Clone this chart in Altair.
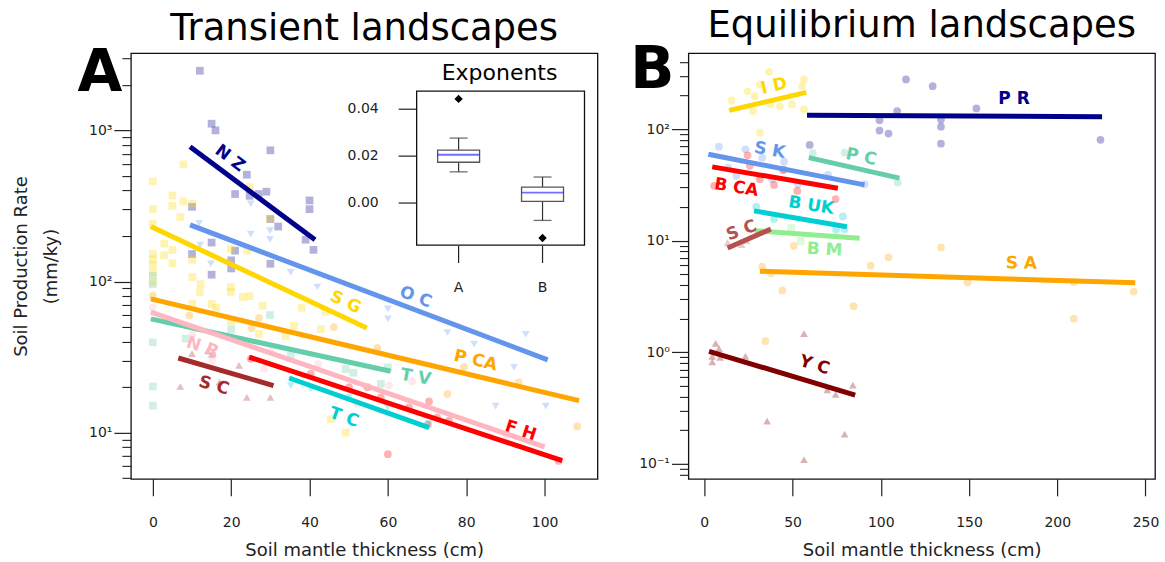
import altair as alt
import pandas as pd

FONT = "DejaVu Sans"

# ---------------- Panel A : transient landscapes ----------------
NZ_x = [12, 15, 16, 30, 24, 21, 24.7, 27, 29, 30, 32, 40, 40, 39, 41, 10, 15, 20, 20, 15, 10, 30, 21]
NZ_y = [2480, 1107, 1000, 738, 509, 379, 369, 379, 393, 259, 231, 344, 301, 189, 162, 312, 181, 138, 122, 111, 152, 131, 160]
OC_x = [11.8, 12.1, 14.8, 25, 25, 29.9, 29.9, 35.2, 42, 60, 60, 75.2, 82, 95.2, 92.2, 87.5, 100.3]
OC_y = [243, 174, 131, 326, 206, 217, 190, 115, 92, 66, 56.6, 46, 38.5, 44.8, 27, 15, 15]
SG_x = [0, 0, 7.8, 5, 5, 7.8, 10.1, 7, 0, 2.9, 5, 2.9, 5, 10.1, 24.8, 29.9, 24.1, 10.1, 12.2,
        0, 0, 0, 0, 0, 12, 10.1, 15, 16.2, 19.9, 19.9, 23, 24.7, 28, 20, 36, 38, 42.9, 44.1,
        27.1, 33.9, 45.4, 49.2, 19.9]
SG_y = [460, 302, 596, 371, 316, 338, 327, 267, 241, 178, 162, 149, 132, 139, 422, 260, 160, 107, 96,
        152, 140, 128, 115, 100, 85, 71, 71, 67, 92, 85, 79, 80, 69, 54, 51, 67, 48.5, 63,
        45, 43.6, 12.3, 10.0, 164]
TV_x = [0, 0, 0, 0, 0, 29.9, 20, 35.2, 49.2, 51.2, 58.2, 60, 8.4]
TV_y = [109, 96, 39.6, 20.2, 15.1, 60, 48, 32.4, 26.4, 24.9, 21, 27, 41.9]
PCA_x = [0, 9.3, 27.1, 25.2, 46.2, 57.3, 79.4, 75.2, 93.4, 108.3]
PCA_y = [80.6, 59.6, 57.4, 49, 50, 36.4, 27.1, 18, 21.5, 11]
NR_x = [0, 10.1, 15.2, 28.4, 30.1, 42.2, 52.2, 60.3, 66.2, 90.3]
NR_y = [67.3, 45, 30, 26.4, 34.7, 28.4, 15.5, 20.5, 21.9, 9.4]
SC_x = [7, 10, 14, 15, 17, 22, 24, 30]
SC_y = [20.2, 33.3, 34.7, 33, 21.6, 27.9, 17.1, 17.1]
FH_x = [25, 40.3, 50.1, 54.8, 58.2, 65.4, 70.5, 72.6, 75.6, 70.2, 60, 103.6]
FH_y = [30.8, 24.5, 20, 20, 17.1, 14.7, 16.1, 12.6, 12.0, 11.3, 7.2, 6.5]
TC_x = [35.2, 40.3, 50.1, 59.9, 70.5]
TC_y = [20.5, 19.5, 17.1, 14.7, 11.5]

# site: (label, colour, marker, x-points, y-points, fit line [x0, y0, x1, y1], label [x, y, angle])
A_sites = {
    "NZ": ("N Z", "#00008B", "square", NZ_x, NZ_y, [9.5, 780, 41.4, 189], [19.7, 653, 37]),
    "OC": ("O C", "#6495ED", "triangle-down", OC_x, OC_y, [9.5, 237, 100.8, 30.3], [67.1, 78.7, 21]),
    "SG": ("S G", "#FFD700", "square", SG_x, SG_y, [-0.5, 231, 54.6, 49.3], [49.2, 72.9, 25]),
    "PCA": ("P CA", "#FFA500", "circle", PCA_x, PCA_y, [-0.5, 76.8, 108.8, 16.3], [82.4, 30, 13]),
    "TV": ("T V", "#66CDAA", "square", TV_x, TV_y, [-0.5, 56.6, 60.7, 25.5], [67.1, 23.3, 10]),
    "NR": ("N R", "#FFB6C1", "circle", NR_x, NR_y, [-0.5, 62.7, 100, 8.05], [12.7, 36.7, 19]),
    "SC": ("S C", "#A52A2A", "triangle-up", SC_x, SC_y, [6.5, 31.2, 30.8, 20.5], [15.6, 20.5, 16]),
    "FH": ("F H", "#FF0000", "circle", FH_x, FH_y, [24.6, 31.6, 104.5, 6.53], [93.9, 10.3, 18]),
    "TC": ("T C", "#00CED1", "triangle-down", TC_x, TC_y, [34.8, 23.0, 70.5, 10.8], [48.8, 12.6, 19]),
}

# ---------------- Panel B : equilibrium landscapes ----------------
ID_x = [36.6, 15.4, 24.5, 31.5, 28.6, 27.7, 37.7, 42.8, 49.7, 56.5, 55.4, 56.5, 31.5]
ID_y = [325, 181, 218, 251, 197, 145, 166, 160, 166, 278, 242, 150, 92.7]
PR_x = [59.7, 99.3, 99.3, 104.4, 109.3, 114.3, 129.4, 134.1, 134.1, 134.1, 154.2, 224.5]
PR_y = [72, 120, 97, 91, 145, 278, 242, 122, 105, 74, 153, 80]
SK_x = [8.3, 23.3, 32.8, 45.2, 13.6, 18.2, 38.4, 45.2, 53.1, 70.1, 90.8]
SK_y = [69.5, 65.9, 55.4, 51, 45.2, 38, 35.5, 43.6, 32, 38.8, 32]
PC_x = [61.6, 79.5, 109.6]
PC_y = [61, 61.4, 33.2]
BCA_x = [24.5, 25.8, 44.6, 39.5, 52.7, 74.4, 5.6, 31.5]
BCA_y = [58.2, 46.8, 42.8, 31.6, 27.9, 23.6, 31, 35.5]
BUK_x = [29.5, 39.5, 78.5, 74.7, 79.5]
BUK_y = [20.2, 15.6, 16.5, 12.5, 12.7]
BM_x = [49.3, 54.6]
BM_y = [13, 9.9]
SCB_x = [13.2, 21.1, 23.9]
SCB_y = [9.6, 9.2, 10]
SA_x = [32.8, 37.7, 44.2, 34.6, 84.6, 94.2, 104.4, 50.7, 134.1, 149.2, 209.4, 243.3, 209.4]
SA_y = [5.86, 5.1, 3.58, 1.26, 2.59, 5.98, 7.1, 9.0, 8.7, 4.25, 4.25, 3.5, 2.0]
YC_x = [6.4, 8.3, 4.5, 4.5, 8.9, 23.3, 56.5, 35.6, 56.5, 79.5, 84.2, 69.7, 74.4]
YC_y = [1.2, 1.08, 0.92, 0.82, 0.9, 0.92, 1.47, 0.242, 0.109, 0.185, 0.507, 0.46, 0.42]

B_sites = {
    "ID": ("I D", "#FFD700", "circle", ID_x, ID_y, [14.1, 147, 57.8, 213], [39.5, 242, 347]),
    "PR": ("P R", "#00008B", "circle", PR_x, PR_y, [58.2, 133, 225.4, 129], [175.5, 184, 0]),
    "SK": ("S K", "#6495ED", "circle", SK_x, SK_y, [2.3, 59.4, 90.8, 31.6], [37.1, 64.5, 10]),
    "PC": ("P C", "#66CDAA", "circle", PC_x, PC_y, [59.2, 55.4, 110.6, 36.3], [88.9, 56.2, 12]),
    "BCA": ("B CA", "#FF0000", "circle", BCA_x, BCA_y, [4.5, 45.8, 75.7, 29.5], [18.2, 29.9, 9]),
    "BUK": ("B UK", "#00CED1", "circle", BUK_x, BUK_y, [28.2, 18.5, 80.8, 13.3], [60.6, 20.6, 9]),
    "BM": ("B M", "#90EE90", "square", BM_x, BM_y, [28.6, 12.3, 88, 10.5], [68.2, 8.3, 3]),
    "SC": ("S C", "#B5524F", "triangle-up", SCB_x, SCB_y, [13.2, 8.6, 37.7, 12.7], [21.1, 12.3, 340]),
    "SA": ("S A", "#FFA500", "circle", SA_x, SA_y, [31.5, 5.32, 244.2, 4.19], [179.7, 6.24, 1]),
    "YC": ("Y C", "#800000", "triangle-up", YC_x, YC_y, [2.7, 1.02, 85.5, 0.413], [62.5, 0.766, 17]),
}

# ---------------- Inset : exponents box plot ----------------
BOX_CATS = ["A", "B"]
BOX_Q1 = [0.0174, 0.0007]
BOX_Q3 = [0.0226, 0.0068]
BOX_MED = [0.0206, 0.0044]
BOX_WLO = [0.0133, -0.0074]
BOX_WHI = [0.0277, 0.0111]
OUT_CATS = ["A", "B"]
OUT_VALS = [0.0444, -0.0149]
INSET_TICKS = [0.0, 0.02, 0.04]

# axes
A_XTICKS = [0, 20, 40, 60, 80, 100]
A_YMAJOR = [10, 100, 1000]
A_YMINOR = [5, 6, 7, 8, 9, 20, 30, 40, 50, 60, 70, 80, 90,
            200, 300, 400, 500, 600, 700, 800, 900, 2000, 3000]
B_XTICKS = [0, 50, 100, 150, 200, 250]
B_YMAJOR = [0.1, 1, 10, 100]
B_YMINOR = [0.08, 0.09, 0.2, 0.3, 0.4, 0.5, 0.6, 0.7, 0.8, 0.9, 2, 3, 4, 5, 6, 7, 8, 9,
            20, 30, 40, 50, 60, 70, 80, 90, 200, 300, 400]
A_XDOM, A_YDOM = [-5.6, 113.5], [4.95, 3240]
B_XDOM, B_YDOM = [-9, 255.4], [0.0735, 478]
W, H = 467, 426


def tables(sites):
    pts, lines, labels = [], [], []
    for key, (lab, col, shp, xs, ys, fit, lp) in sites.items():
        for x, y in zip(xs, ys):
            pts.append({"site": key, "x": x, "y": y, "color": col, "shape": shp})
        lines.append({"site": key, "x": fit[0], "y": fit[1], "color": col})
        lines.append({"site": key, "x": fit[2], "y": fit[3], "color": col})
        labels.append({"site": key, "label": lab, "x": lp[0], "y": lp[1], "angle": lp[2], "color": col})
    return pd.DataFrame(pts), pd.DataFrame(lines), pd.DataFrame(labels)


LABEL_EXPR = ("datum.value >= 999 ? '10³' : datum.value >= 99 ? '10²' : "
              "datum.value >= 9 ? '10¹' : datum.value >= 0.9 ? '10⁰' : '10⁻¹'")


def panel(sites, xdom, ydom, xticks, ymajor, yminor, ytitle, title, letter, letter_xy, extra=None):
    pts, lines, labels = tables(sites)
    xs = alt.Scale(domain=xdom, nice=False, zero=False)
    ys = alt.Scale(type="log", domain=ydom, nice=False)
    xaxis = alt.Axis(values=xticks, tickSize=17, tickWidth=1.2, tickColor="#222", domain=False,
                     grid=False, labelFontSize=14, labelColor="#222", labelPadding=20,
                     title="Soil mantle thickness (cm)", titleFontSize=18, titleColor="#222",
                     titleFontWeight="normal", titlePadding=12)
    yargs = dict(values=ymajor, tickSize=17, tickWidth=1.2, tickColor="#222", domain=False,
                 grid=False, labelExpr=LABEL_EXPR, labelFontSize=14, labelColor="#222",
                 labelPadding=2, orient="left")
    if ytitle:
        yargs.update(title=ytitle, titleFontSize=18, titleColor="#222", titleFontWeight="normal",
                     titlePadding=28, titleLineHeight=30)
    else:
        yargs.update(title=None)
    yaxis = alt.Axis(**yargs)
    minor_axis = alt.Axis(values=yminor, tickSize=9, tickWidth=1.1, tickColor="#222", domain=False,
                          grid=False, labels=False, title=None, orient="left")

    pts_layer = alt.Chart(pts).mark_point(filled=True, opacity=0.3, size=60, strokeWidth=0).encode(
        x=alt.X("x:Q", scale=xs, axis=xaxis),
        y=alt.Y("y:Q", scale=ys, axis=yaxis),
        color=alt.Color("color:N", scale=None),
        shape=alt.Shape("shape:N", scale=None),
    )
    line_layer = alt.Chart(lines).mark_line(strokeWidth=5).encode(
        x=alt.X("x:Q", scale=xs, axis=None),
        y=alt.Y("y:Q", scale=ys, axis=minor_axis),
        detail="site:N",
        color=alt.Color("color:N", scale=None),
    )
    text_layer = alt.Chart(labels).mark_text(fontSize=17, fontWeight="bold").encode(
        x=alt.X("x:Q", scale=xs, axis=None),
        y=alt.Y("y:Q", scale=ys, axis=None),
        text="label:N",
        color=alt.Color("color:N", scale=None),
        angle=alt.Angle("angle:Q", scale=None),
    )
    letter_layer = alt.Chart(pd.DataFrame({"t": [letter]})).mark_text(
        fontSize=58, fontWeight="bold", color="black", align="center", baseline="alphabetic"
    ).encode(text="t:N", x=alt.value(letter_xy[0]), y=alt.value(letter_xy[1]))

    layers = [pts_layer, line_layer, text_layer, letter_layer]
    if extra is not None:
        layers.append(extra)
    return alt.layer(*layers).resolve_scale(x="independent", y="independent").properties(
        width=W, height=H,
        title=alt.TitleParams(title, fontSize=37, fontWeight="normal", color="black",
                              anchor="middle", offset=-3),
    )


def inset():
    X0, X1, Y0, Y1 = 286, 454, 38, 192
    xs = alt.Scale(type="point", domain=BOX_CATS, range=[X0, X1], padding=0.5)
    ys = alt.Scale(domain=[-0.0179, 0.0477], range=[Y1, Y0], nice=False, zero=False)
    box = pd.DataFrame({"cat": BOX_CATS, "q1": BOX_Q1, "q3": BOX_Q3, "med": BOX_MED,
                        "wlo": BOX_WLO, "whi": BOX_WHI})
    outl = pd.DataFrame({"cat": OUT_CATS, "v": OUT_VALS})
    ticks = pd.DataFrame({"v": INSET_TICKS})
    one = pd.DataFrame({"d": [0]})
    X = alt.X("cat:N", scale=xs, axis=None)

    frame = alt.Chart(one).mark_rect(fill="white", stroke="#111", strokeWidth=1.3).encode(
        x=alt.value(X0), x2=alt.value(X1), y=alt.value(Y0), y2=alt.value(Y1))
    wl = alt.Chart(box).mark_rule(color="#333", strokeWidth=1.2).encode(
        x=X, y=alt.Y("wlo:Q", scale=ys, axis=None), y2="q1:Q")
    wh = alt.Chart(box).mark_rule(color="#333", strokeWidth=1.2).encode(
        x=X, y=alt.Y("q3:Q", scale=ys, axis=None), y2="whi:Q")
    cap_lo = alt.Chart(box).mark_tick(size=18, thickness=1.3, color="#333").encode(
        x=X, y=alt.Y("wlo:Q", scale=ys, axis=None))
    cap_hi = alt.Chart(box).mark_tick(size=18, thickness=1.3, color="#333").encode(
        x=X, y=alt.Y("whi:Q", scale=ys, axis=None))
    bx = alt.Chart(box).mark_bar(size=42, fill="white", stroke="#555", strokeWidth=1.3).encode(
        x=X, y=alt.Y("q1:Q", scale=ys, axis=None), y2="q3:Q")
    med = alt.Chart(box).mark_tick(size=42, thickness=1.8, color="#3333ff").encode(
        x=X, y=alt.Y("med:Q", scale=ys, axis=None))
    out = alt.Chart(outl).mark_point(shape="diamond", filled=True, size=70, color="black",
                                     opacity=1).encode(
        x=X, y=alt.Y("v:Q", scale=ys, axis=None))
    ytick = alt.Chart(ticks).mark_rule(color="#222", strokeWidth=1.2).encode(
        x=alt.value(X0 - 18), x2=alt.value(X0), y=alt.Y("v:Q", scale=ys, axis=None))
    ylab = alt.Chart(ticks).mark_text(fontSize=14, align="right", baseline="middle",
                                      color="#222").encode(
        x=alt.value(X0 - 38), y=alt.Y("v:Q", scale=ys, axis=None),
        text=alt.Text("v:Q", format=".2f"))
    xtick = alt.Chart(box).mark_rule(color="#222", strokeWidth=1.2).encode(
        x=X, y=alt.value(Y1 + 1), y2=alt.value(Y1 + 18))
    xlab = alt.Chart(box).mark_text(fontSize=14, baseline="middle", color="#222").encode(
        x=X, y=alt.value(Y1 + 43), text="cat:N")
    ttl = alt.Chart(pd.DataFrame({"t": ["Exponents"]})).mark_text(
        fontSize=22, color="black", baseline="middle").encode(
        text="t:N", x=alt.value((X0 + X1) / 2 - 1), y=alt.value(Y0 - 18))
    return alt.layer(frame, wl, wh, cap_lo, cap_hi, bx, med, out, ytick, ylab, xtick, xlab, ttl)


panelA = panel(A_sites, A_XDOM, A_YDOM, A_XTICKS, A_YMAJOR, A_YMINOR,
               ["Soil Production Rate", "(mm/ky)"], "Transient landscapes", "A", (-31, 38),
               extra=inset())
panelB = panel(B_sites, B_XDOM, B_YDOM, B_XTICKS, B_YMAJOR, B_YMINOR,
               None, "Equilibrium landscapes", "B", (-36, 35))

chart = alt.hconcat(panelA, panelB, spacing=31).configure(
    font=FONT, padding={"left": 11, "top": 6, "right": 5, "bottom": 2}
).configure_view(stroke="#111", strokeWidth=1.3)

chart.save("out.html", embed_options={"renderer": "svg", "actions": False})
